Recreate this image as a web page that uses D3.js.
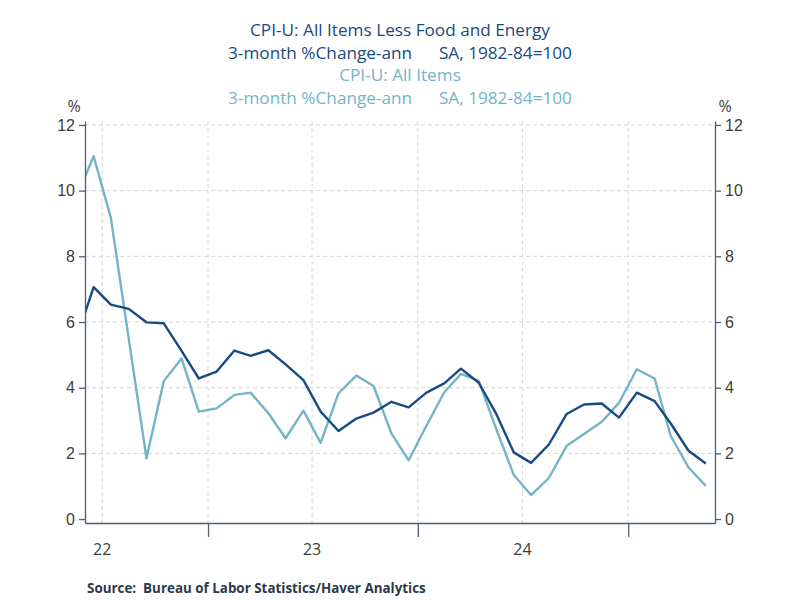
<!DOCTYPE html>
<html>
<head>
<meta charset="utf-8">
<script src="https://cdn.jsdelivr.net/npm/d3@7"></script>
<style>
  body { margin: 0; background: #fff; }
  svg { font-family: 'Open Sans', 'Noto Sans', sans-serif; }
</style>
</head>
<body>
<svg id="chart" width="800" height="600"></svg>
<script>
// Monthly data, May 2022 .. May 2025 (3-month % change, annualized)
const months = d3.range(0, 37).map(function (i) { return new Date(2022, 4 + i, 16) })
const coreValues = [
  5.44, 7.06, 6.53, 6.40, 5.99, 5.96, 5.12, 4.28,
  4.49, 5.13, 4.97, 5.14, 4.71, 4.23, 3.27, 2.68, 3.06, 3.24, 3.57, 3.40,
  3.85, 4.13, 4.58, 4.15, 3.22, 2.03, 1.71, 2.27, 3.20, 3.49, 3.52, 3.09,
  3.85, 3.59, 2.91, 2.08, 1.69
]
const allItemsValues = [
  9.75, 11.05, 9.17, 5.50, 1.85, 4.20, 4.89, 3.27,
  3.37, 3.78, 3.85, 3.22, 2.46, 3.30, 2.32, 3.83, 4.37, 4.05, 2.61, 1.79,
  2.84, 3.86, 4.42, 4.21, 2.76, 1.34, 0.73, 1.25, 2.23, 2.59, 2.96, 3.54,
  4.56, 4.28, 2.53, 1.57, 1.01
]
const yTicks = [0, 2, 4, 6, 8, 10, 12]
const yearBreaks = [new Date(2023, 0, 1), new Date(2024, 0, 1), new Date(2025, 0, 1)]
const yearLabels = [
  { date: new Date(2022, 6, 1), text: '22' },
  { date: new Date(2023, 6, 1), text: '23' },
  { date: new Date(2024, 6, 1), text: '24' }
]
const titleLines = [
  { text: 'CPI-U: All Items Less Food and Energy', series: 'core' },
  { text: '3-month %Change-ann      SA, 1982-84=100', series: 'core' },
  { text: 'CPI-U: All Items', series: 'all' },
  { text: '3-month %Change-ann      SA, 1982-84=100', series: 'all' }
]

const colors = { core: '#174b82', all: '#74b4c9' }
const axisColor = '#4b5f75'
const textColor = '#3d3d3d'

const svg = d3.select('#chart')
const plotLeft = 85
const plotRight = 715
const plotTop = 121
const plotBottom = 523

const x = d3.scaleTime()
  .domain([new Date(2022, 5, 1), new Date(2025, 5, 1)])
  .range([plotLeft, plotRight])
const y = d3.scaleLinear()
  .domain([-0.12, 12.12])
  .range([plotBottom, plotTop])

// Clip so the line starts at the axis
svg.append('clipPath').attr('id', 'plotClip')
  .append('rect')
  .attr('x', plotLeft).attr('y', plotTop)
  .attr('width', plotRight - plotLeft).attr('height', plotBottom - plotTop)

// Grid lines
const halfYears = d3.timeMonth.every(6).range(new Date(2022, 6, 1), new Date(2025, 5, 1))
svg.append('g')
  .selectAll('line')
  .data(halfYears)
  .enter().append('line')
  .attr('x1', function (d) { return x(d) })
  .attr('x2', function (d) { return x(d) })
  .attr('y1', plotTop)
  .attr('y2', plotBottom)
  .attr('stroke', '#d6d6d6')
  .attr('stroke-dasharray', '4,3')
svg.append('g')
  .selectAll('line')
  .data(yTicks.filter(function (d) { return d > 0 }))
  .enter().append('line')
  .attr('x1', plotLeft)
  .attr('x2', plotRight)
  .attr('y1', function (d) { return y(d) })
  .attr('y2', function (d) { return y(d) })
  .attr('stroke', '#d6d6d6')
  .attr('stroke-dasharray', '4,3')

// Lines
const line = d3.line()
  .x(function (d) { return x(d[0]) })
  .y(function (d) { return y(d[1]) })
const series = [
  { key: 'all', values: allItemsValues },
  { key: 'core', values: coreValues }
]
svg.append('g')
  .attr('clip-path', 'url(#plotClip)')
  .selectAll('path')
  .data(series)
  .enter().append('path')
  .attr('fill', 'none')
  .attr('stroke', function (d) { return colors[d.key] })
  .attr('stroke-width', 2.4)
  .attr('stroke-linejoin', 'round')
  .attr('d', function (d) { return line(d3.zip(months, d.values)) })

// Y axes
function styleAxis (g) {
  g.selectAll('.domain').attr('stroke', axisColor).attr('stroke-width', 1.3)
  g.selectAll('.tick line').attr('stroke', axisColor).attr('stroke-width', 1.3)
  g.selectAll('.tick text').attr('fill', textColor).attr('font-size', 16)
}
svg.append('g')
  .attr('transform', 'translate(' + plotLeft + ',0)')
  .call(d3.axisLeft(y).tickValues(yTicks).tickSize(6).tickSizeOuter(0).tickPadding(4))
  .call(styleAxis)
svg.append('g')
  .attr('transform', 'translate(' + plotRight + ',0)')
  .call(d3.axisRight(y).tickValues(yTicks).tickSize(6).tickSizeOuter(0).tickPadding(4))
  .call(styleAxis)

// X axis with year break ticks
svg.append('g')
  .attr('transform', 'translate(0,' + plotBottom + ')')
  .call(d3.axisBottom(x).tickValues(yearBreaks).tickSize(14).tickSizeOuter(0).tickFormat(''))
  .call(styleAxis)
svg.append('g')
  .selectAll('text')
  .data(yearLabels)
  .enter().append('text')
  .attr('x', function (d) { return x(d.date) })
  .attr('y', 555)
  .attr('text-anchor', 'middle')
  .attr('fill', textColor)
  .attr('font-size', 16)
  .text(function (d) { return d.text })

// Unit labels
svg.append('text').attr('x', 74).attr('y', 112).attr('text-anchor', 'middle')
  .attr('fill', textColor).attr('font-size', 16).text('%')
svg.append('text').attr('x', 725).attr('y', 112).attr('text-anchor', 'middle')
  .attr('fill', textColor).attr('font-size', 16).text('%')

// Titles
svg.append('g')
  .selectAll('text')
  .data(titleLines)
  .enter().append('text')
  .attr('x', 400)
  .attr('y', function (d, i) { return 36 + i * 22.5 })
  .attr('text-anchor', 'middle')
  .attr('xml:space', 'preserve')
  .attr('fill', function (d) { return colors[d.series] })
  .attr('font-size', 17.2)
  .text(function (d) { return d.text })

// Source
svg.append('text')
  .attr('x', 87)
  .attr('y', 593)
  .attr('fill', '#2b3a4a')
  .attr('font-size', 13.4)
  .attr('font-weight', 'bold')
  .attr('xml:space', 'preserve')
  .text('Source:  Bureau of Labor Statistics/Haver Analytics')
</script>
</body>
</html>
